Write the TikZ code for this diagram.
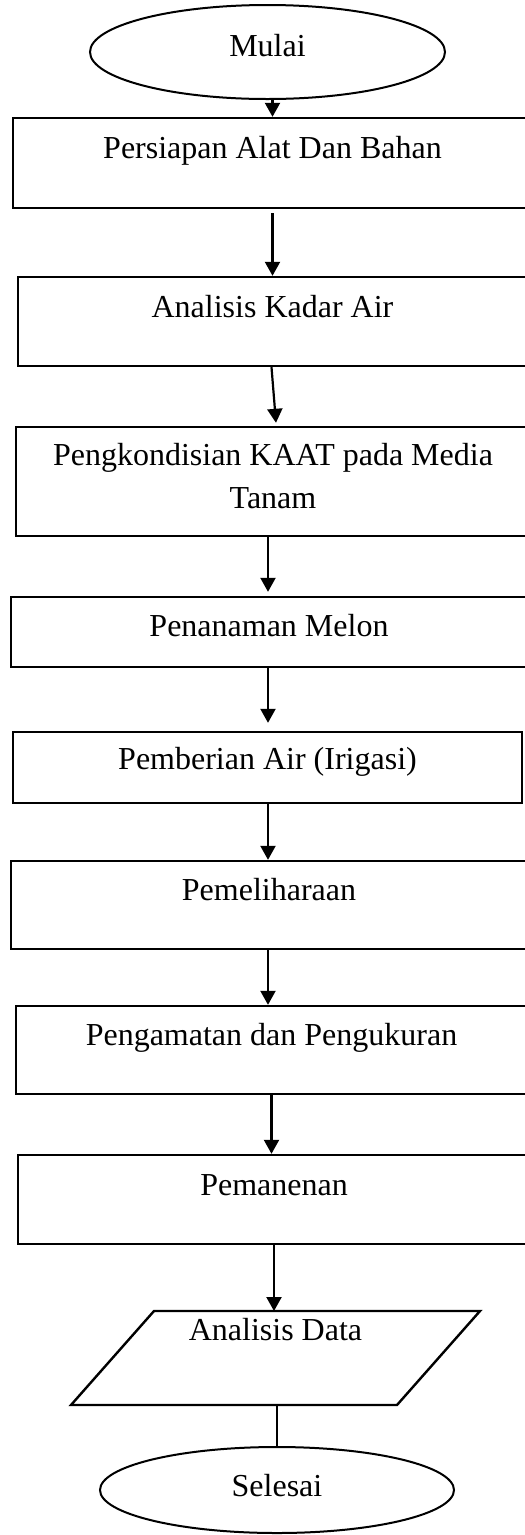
\documentclass[tikz,border=0pt]{standalone}
\usepackage{fontspec}
\setmainfont{Liberation Serif}
\usetikzlibrary{shapes.geometric,arrows.meta,calc}
\begin{document}
\begin{tikzpicture}[x=1pt,y=1pt,
  every node/.style={font=\fontsize{32}{43}\selectfont},
  stepbox/.style={draw, line width=2.4pt, rectangle, inner sep=0pt, align=center},
  term/.style={draw, line width=2pt, ellipse, inner sep=0pt},
  arr/.style={line width=2.2pt, -{Triangle[length=14pt,width=15pt]}},
  plain/.style={line width=2.2pt}]
\useasboundingbox (0,0) rectangle (525,-1535);
\clip (0,0) rectangle (525,-1535);
\node[term, minimum width=355, minimum height=94, text height=24pt, text depth=16pt] (mulai) at (267.5,-52) {Mulai};
\node[stepbox, minimum width=519, minimum height=90, text height=40pt, text depth=50pt] (b1) at (272.5,-163) {Persiapan Alat Dan Bahan};
\node[stepbox, minimum width=509, minimum height=89, text height=40pt, text depth=49pt] (b2) at (272.5,-321.5) {Analisis Kadar Air};
\node[stepbox, minimum width=514, minimum height=109, text height=81pt, text depth=28pt] (b3) at (273,-481.5) {Pengkondisian KAAT pada Media\\Tanam};
\node[stepbox, minimum width=516, minimum height=70, text height=39pt, text depth=31pt] (b4) at (269,-632) {Penanaman Melon};
\node[stepbox, minimum width=509, minimum height=71, text height=37pt, text depth=34pt] (b5) at (267.5,-767.5) {Pemberian Air (Irigasi)};
\node[stepbox, minimum width=516, minimum height=88, text height=39pt, text depth=49pt] (b6) at (269,-905) {Pemeliharaan};
\node[stepbox, minimum width=511, minimum height=88, text height=39pt, text depth=49pt] (b7) at (271.5,-1050) {Pengamatan dan Pengukuran};
\node[stepbox, minimum width=512, minimum height=89, text height=40pt, text depth=49pt] (b8) at (274,-1199.5) {Pemanenan};
% parallelogram
\coordinate (ptl) at (154,-1311);
\coordinate (ptr) at (480,-1311);
\coordinate (pbr) at (397,-1405);
\coordinate (pbl) at (71,-1405);
\draw[line width=2.4pt, line join=miter] (ptl) -- (ptr) -- (pbr) -- (pbl) -- cycle;
\node[inner sep=0pt, text height=38pt, text depth=56pt] (data) at (275.5,-1349) {Analisis Data};
\coordinate (dtop) at (274,-1311);
\coordinate (dbot) at (277,-1405);
\node[term, minimum width=354, minimum height=86, text height=24pt, text depth=12pt] (selesai) at (277,-1490) {Selesai};
% connectors
\draw[arr] (b1.north |- mulai.south) -- (b1.north);
\draw[arr] ([yshift=-4pt]b1.south) -- (b2.north);
\draw[arr] ([xshift=-1pt]b2.south) -- ([xshift=3pt,yshift=3pt]b3.north);
\draw[arr] ([xshift=-1pt]b4.north |- b3.south) -- ([xshift=-1pt,yshift=4pt]b4.north);
\draw[arr] ([xshift=-1pt]b4.south) -- ([xshift=-1pt,yshift=8pt]b4.south |- b5.north);
\draw[arr] ([xshift=-1pt]b6.north |- b5.south) -- ([xshift=-1pt]b6.north);
\draw[arr] ([xshift=-1pt]b6.south) -- ([xshift=-1pt]b6.south |- b7.north);
\draw[arr] (b7.south) -- (b7.south |- b8.north);
\draw[arr] (b8.south) -- (dtop);
\draw[plain] (dbot) -- (selesai.north);
\end{tikzpicture}
\end{document}
